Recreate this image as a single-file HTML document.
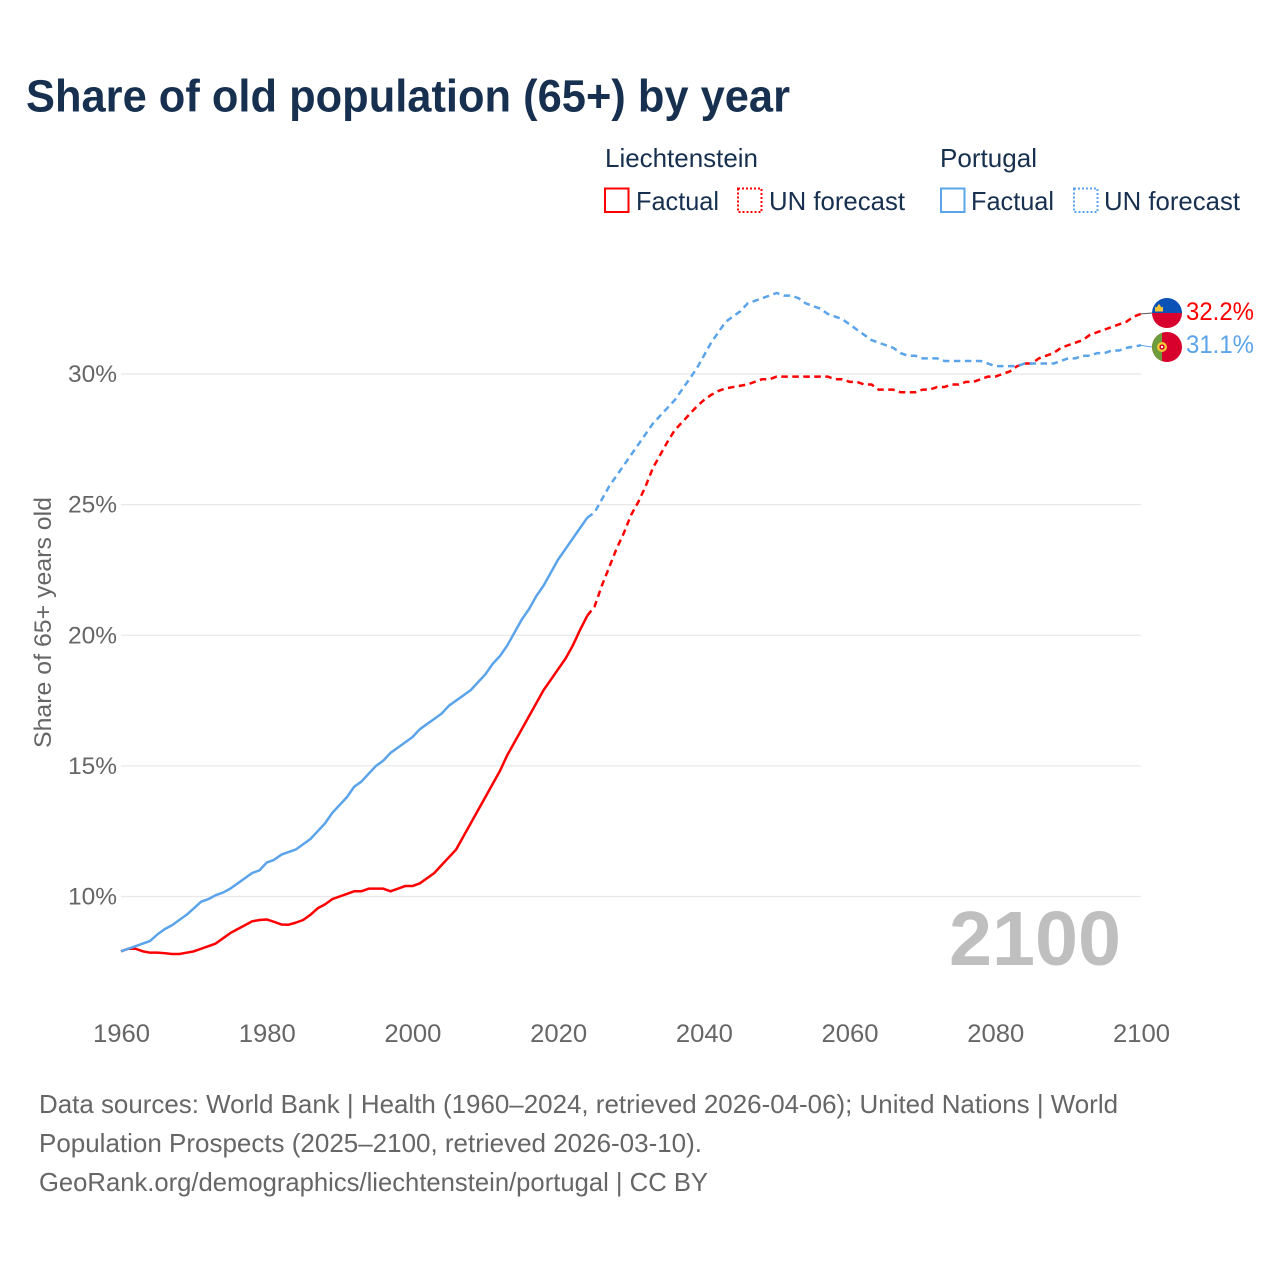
<!DOCTYPE html>
<html lang="en">
<head>
<meta charset="utf-8">
<title>Share of old population (65+) by year</title>
<style>
html,body{margin:0;padding:0;background:#fff;}
svg{display:block;font-family:"Liberation Sans","DejaVu Sans",sans-serif;}
</style>
</head>
<body>
<svg id="chart" xmlns="http://www.w3.org/2000/svg" width="1280" height="1280" viewBox="0 0 1280 1280">
  <rect width="1280" height="1280" fill="#ffffff"/>
  <text x="26" y="111.5" font-size="45" font-weight="700" fill="#17304f" textLength="764" lengthAdjust="spacingAndGlyphs">Share of old population (65+) by year</text>

  <g font-size="26" fill="#17304f">
    <text x="605" y="167" textLength="153" lengthAdjust="spacingAndGlyphs">Liechtenstein</text>
    <text x="940" y="167" textLength="97" lengthAdjust="spacingAndGlyphs">Portugal</text>
    <rect x="605" y="188.5" width="23.5" height="23.5" fill="none" stroke="#ff0000" stroke-width="2"/>
    <text x="636" y="210" textLength="83" lengthAdjust="spacingAndGlyphs">Factual</text>
    <rect x="738" y="188.5" width="23.5" height="23.5" fill="none" stroke="#ff0000" stroke-width="2" stroke-dasharray="2 2"/>
    <text x="769" y="210" textLength="136" lengthAdjust="spacingAndGlyphs">UN forecast</text>
    <rect x="941" y="188.5" width="23.5" height="23.5" fill="none" stroke="#5ba4ea" stroke-width="2"/>
    <text x="971" y="210" textLength="83" lengthAdjust="spacingAndGlyphs">Factual</text>
    <rect x="1074" y="188.5" width="23.5" height="23.5" fill="none" stroke="#5ba4ea" stroke-width="2" stroke-dasharray="2 2"/>
    <text x="1104" y="210" textLength="136" lengthAdjust="spacingAndGlyphs">UN forecast</text>
  </g>

  <g id="grid"></g>
  <g id="yticks"></g>
  <g id="xticks"></g>

  <text transform="translate(51,622.5) rotate(-90)" text-anchor="middle" font-size="24" fill="#666666" textLength="251" lengthAdjust="spacingAndGlyphs">Share of 65+ years old</text>

  <text x="949" y="965" font-size="77" font-weight="700" fill="#bfbfbf" textLength="172" lengthAdjust="spacingAndGlyphs">2100</text>

  <g id="series"></g>

  <defs>
    <clipPath id="clip-li"><circle cx="1167" cy="313" r="15"/></clipPath>
    <clipPath id="clip-pt"><circle cx="1167" cy="347" r="15"/></clipPath>
  </defs>
  <g clip-path="url(#clip-li)">
    <rect x="1152" y="298" width="30" height="15" fill="#0a52b5"/>
    <rect x="1152" y="313" width="30" height="15" fill="#d8002c"/>
    <path d="M1155 311.5h8v-5l-1.6 1-1.2-2-1.2-1.6-1.2 1.6-1.2 2-1.6-1z" fill="#f4c534"/>
  </g>
  <g clip-path="url(#clip-pt)">
    <rect x="1152" y="332" width="30" height="30" fill="#d8002c"/>
    <rect x="1152" y="332" width="10" height="30" fill="#6c9c3c"/>
    <circle cx="1162" cy="347" r="5" fill="#f4c534"/>
    <circle cx="1162" cy="347" r="2.6" fill="#d8002c"/>
    <circle cx="1162" cy="347" r="1.1" fill="#ffffff"/>
  </g>

  <g id="endlabels"></g>

  <g font-size="26" fill="#666666">
    <text x="39" y="1113" textLength="1079" lengthAdjust="spacingAndGlyphs">Data sources: World Bank | Health (1960–2024, retrieved 2026-04-06); United Nations | World</text>
    <text x="39" y="1152" textLength="663" lengthAdjust="spacingAndGlyphs">Population Prospects (2025–2100, retrieved 2026-03-10).</text>
    <text x="39" y="1191" textLength="669" lengthAdjust="spacingAndGlyphs">GeoRank.org/demographics/liechtenstein/portugal | CC BY</text>
  </g>
</svg>
<script>
const startYear = 1960;
const forecastStartYear = 2024;
const xTickYears = [1960, 1980, 2000, 2020, 2040, 2060, 2080, 2100];
const xTickLabels = ["1960", "1980", "2000", "2020", "2040", "2060", "2080", "2100"];
const yTickValues = [10, 15, 20, 25, 30];
const yTickLabels = ["10%", "15%", "20%", "25%", "30%"];

const liechtensteinFactual = [
  7.9, 8.0, 8.0, 7.9, 7.85, 7.85, 7.83, 7.8, 7.8, 7.85,
  7.9, 8.0, 8.1, 8.2, 8.4, 8.6, 8.75, 8.9, 9.05, 9.1,
  9.12, 9.03, 8.93, 8.92, 9.0, 9.1, 9.3, 9.55, 9.7, 9.9,
  10.0, 10.1, 10.2, 10.2, 10.3, 10.3, 10.3, 10.2, 10.3, 10.4,
  10.4, 10.5, 10.7, 10.9, 11.2, 11.5, 11.8, 12.3, 12.8, 13.3,
  13.8, 14.3, 14.8, 15.4, 15.9, 16.4, 16.9, 17.4, 17.9, 18.3,
  18.7, 19.1, 19.6, 20.2, 20.75
];
const liechtensteinForecast = [
  20.75, 21.1, 21.9, 22.6, 23.3, 23.9, 24.6, 25.1, 25.7, 26.4,
  26.9, 27.4, 27.85, 28.15, 28.45, 28.75, 29.0, 29.2, 29.35, 29.45,
  29.5, 29.55, 29.6, 29.7, 29.8, 29.8, 29.9, 29.9, 29.9, 29.9,
  29.9, 29.9, 29.9, 29.9, 29.8, 29.8, 29.7, 29.7, 29.6, 29.6,
  29.4, 29.4, 29.4, 29.3, 29.3, 29.3, 29.4, 29.4, 29.5, 29.5,
  29.6, 29.6, 29.7, 29.7, 29.8, 29.9, 29.9, 30.0, 30.1, 30.3,
  30.4, 30.4, 30.6, 30.7, 30.8, 31.0, 31.1, 31.2, 31.3, 31.5,
  31.6, 31.7, 31.8, 31.9, 32.0, 32.2, 32.3
];
const portugalFactual = [
  7.9, 8.0, 8.1, 8.2, 8.3, 8.55, 8.75, 8.9, 9.1, 9.3,
  9.55, 9.8, 9.9, 10.05, 10.15, 10.3, 10.5, 10.7, 10.9, 11.0,
  11.3, 11.4, 11.6, 11.7, 11.8, 12.0, 12.2, 12.5, 12.8, 13.2,
  13.5, 13.8, 14.2, 14.4, 14.7, 15.0, 15.2, 15.5, 15.7, 15.9,
  16.1, 16.4, 16.6, 16.8, 17.0, 17.3, 17.5, 17.7, 17.9, 18.2,
  18.5, 18.9, 19.2, 19.6, 20.1, 20.6, 21.0, 21.5, 21.9, 22.4,
  22.9, 23.3, 23.7, 24.1, 24.5
];
const portugalForecast = [
  24.5, 24.7, 25.2, 25.7, 26.1, 26.5, 26.9, 27.3, 27.7, 28.1,
  28.4, 28.7, 29.0, 29.4, 29.8, 30.2, 30.7, 31.2, 31.6, 32.0,
  32.2, 32.4, 32.7, 32.8, 32.9, 33.0, 33.1, 33.0, 33.0, 32.9,
  32.7, 32.6, 32.5, 32.3, 32.2, 32.1, 31.9, 31.7, 31.5, 31.3,
  31.2, 31.1, 31.0, 30.8, 30.7, 30.7, 30.6, 30.6, 30.6, 30.5,
  30.5, 30.5, 30.5, 30.5, 30.5, 30.4, 30.3, 30.3, 30.3, 30.3,
  30.4, 30.4, 30.4, 30.4, 30.4, 30.5, 30.6, 30.6, 30.7, 30.7,
  30.8, 30.8, 30.9, 30.9, 31.0, 31.05, 31.1
];
const endLabelValues = [32.2, 31.1];
const endLabelNames = ["liechtenstein", "portugal"];

const NS = "http://www.w3.org/2000/svg";
const xScale = y => 121 + (y - 1960) * (1020 / 140);
const yScale = v => 896.5 - (v - 10) * 26.125;
const mk = (tag, parent, attrs) => {
  const el = document.createElementNS(NS, tag);
  for (const k in attrs) el.setAttribute(k, attrs[k]);
  parent.appendChild(el);
  return el;
};

const gridG = document.getElementById("grid");
const yG = document.getElementById("yticks");
const xG = document.getElementById("xticks");
const seriesG = document.getElementById("series");
const labelsG = document.getElementById("endlabels");

yTickValues.forEach((v, i) => {
  const line = mk("line", gridG, {x1: xScale(1960), x2: xScale(2100), y1: yScale(v), y2: yScale(v), stroke: "#e8e8e8", "stroke-width": 1.3});
  
  
  const t = mk("text", yG, {x: 117, y: yScale(v) + 8, "text-anchor": "end", "font-size": 24.5, fill: "#666666", textLength: 49, lengthAdjust: "spacingAndGlyphs"});
  t.textContent = yTickLabels[i];
  
  
});

xTickYears.forEach((yr, i) => {
  const t = mk("text", xG, {x: xScale(yr) + 1 - 29, y: 1042, "font-size": 25, fill: "#666666", textLength: 57, lengthAdjust: "spacingAndGlyphs"});
  t.textContent = xTickLabels[i];
  
  
});

const pathFor = (values, firstYear) =>
  values.map((v, i) => (i ? "L" : "M") + xScale(firstYear + i).toFixed(2) + " " + yScale(v).toFixed(2)).join("");

const drawLine = (values, firstYear, color, dashed, name) => {
  const p = mk("path", seriesG, {d: pathFor(values, firstYear), fill: "none", stroke: color, "stroke-width": 2.5, "stroke-linejoin": "round"});
  if (dashed) p.setAttribute("stroke-dasharray", "6.5 4.5");
  
  
};

drawLine(liechtensteinFactual, startYear, "#ff0000", false, "line-liechtenstein-factual");
drawLine(liechtensteinForecast, forecastStartYear, "#ff0000", true, "line-liechtenstein-forecast");
drawLine(portugalFactual, startYear, "#5ba4ea", false, "line-portugal-factual");
drawLine(portugalForecast, forecastStartYear, "#5ba4ea", true, "line-portugal-forecast");

const liLast = liechtensteinForecast[liechtensteinForecast.length - 1];
const ptLast = portugalForecast[portugalForecast.length - 1];
const connectorLi = mk("line", seriesG, {x1: xScale(2100), y1: yScale(liLast), x2: 1152, y2: 313, stroke: "#555555", "stroke-width": 1});


const connectorPt = mk("line", seriesG, {x1: xScale(2100), y1: yScale(ptLast), x2: 1152, y2: 347, stroke: "#5ba4ea", "stroke-width": 1});



const labelColors = ["#ff0000", "#5ba4ea"];
const labelBaselines = [320, 353];
endLabelValues.forEach((v, i) => {
  const t = mk("text", labelsG, {x: 1186, y: labelBaselines[i], "font-size": 25, fill: labelColors[i], textLength: 68, lengthAdjust: "spacingAndGlyphs"});
  t.textContent = v.toFixed(1) + "%";
  
  
});
</script>
</body>
</html>
